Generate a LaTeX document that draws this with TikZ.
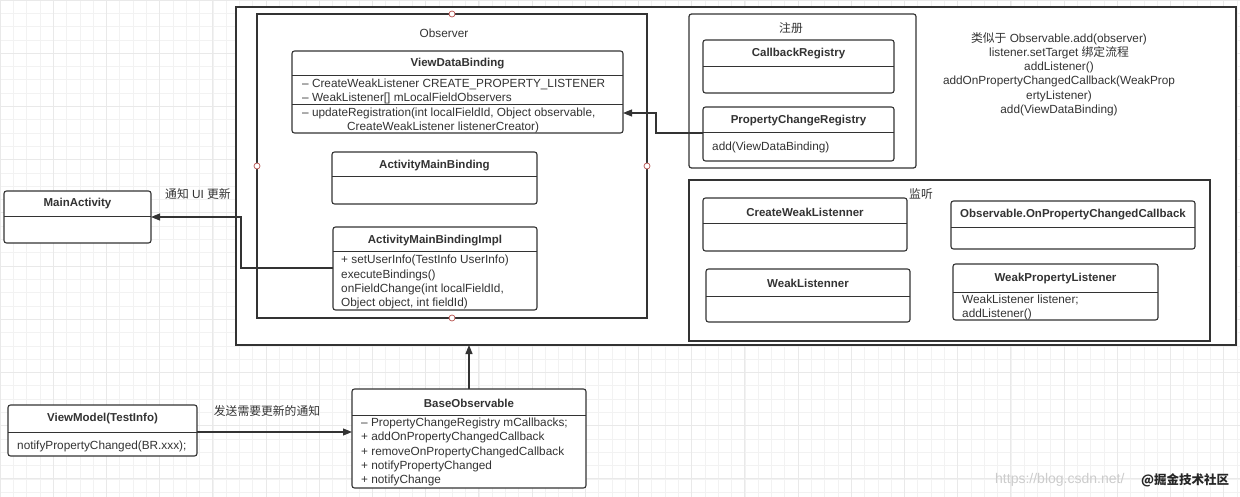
\documentclass[tikz,border=0pt]{standalone}
\usepackage{fontspec}
\setmainfont{Liberation Sans}
\newfontfamily\cjk{Noto Sans CJK SC}
\usetikzlibrary{arrows.meta}
\definecolor{ln}{HTML}{333333}
\definecolor{tx}{HTML}{333333}
\definecolor{dotc}{HTML}{B85450}
\definecolor{gridc}{HTML}{F2F2F2}
\definecolor{gridm}{HTML}{E9E9E9}
\newcommand\boxat[6]{%
  \node[#1, minimum width={(#5)-(#3)}, minimum height={(#6)-(#4)}] (#2) at ({((#3)+(#5))/2},{((#4)+(#6))/2}) {};}
\newcommand\hsep[2]{\draw[ln, line width=1pt] (#1.west |- 0,#2) -- (#1.east |- 0,#2);}
\begin{document}
\begin{tikzpicture}[x=1pt,y=-1pt,
  font=\fontsize{11.8}{14.4}\selectfont, text=tx,
  box/.style={draw=ln, line width=1.1pt, rounded corners=2.5pt, inner sep=0pt, outer sep=0pt, fill=white},
  frame/.style={draw=ln, line width=1.2pt, inner sep=0pt, outer sep=0pt, fill=white},
  rframe/.style={frame, rounded corners=2.5pt},
  ttl/.style={font=\fontsize{11.5}{14}\selectfont\bfseries, inner sep=0pt},
  txt/.style={anchor=west, inner sep=0pt},
  lbl/.style={inner sep=0pt},
  arr/.style={draw=ln, line width=1.1pt, -{Triangle[length=9pt,width=7pt]}},
  dot/.style={circle, draw=dotc, fill=white, minimum size=6pt, inner sep=0pt, line width=0.7pt}]
\useasboundingbox (0,0) rectangle (1240,497);
\fill[white] (0,0) rectangle (1240,497);
% background grid
\foreach \i in {0,...,94} {
  \pgfmathsetmacro\gx{\i*13.3}
  \draw[gridc, line width=0.6pt] (\gx,0) -- (\gx,497);
}
\foreach \j in {0,...,38} {
  \pgfmathsetmacro\gy{\j*13.3}
  \draw[gridc, line width=0.6pt] (0,\gy) -- (1240,\gy);
}
\foreach \i in {0,...,24} {
  \pgfmathsetmacro\gx{\i*53.2}
  \draw[gridm, line width=0.7pt] (\gx,0) -- (\gx,497);
}
\foreach \j in {0,...,10} {
  \pgfmathsetmacro\gy{\j*53.2}
  \draw[gridm, line width=0.7pt] (0,\gy) -- (1240,\gy);
}

% outer frame
\boxat{frame}{outer}{236}{7}{1236}{345}

% Observer frame
\boxat{frame}{observer}{257}{14}{647}{318}
\node[lbl] (obslbl) at (444,33) {Observer};

% ViewDataBinding
\boxat{box}{vdb}{292}{51}{623}{133}
\hsep{vdb}{76}
\hsep{vdb}{105}
\node[ttl] (vdbt) at (457.5,63.5) {ViewDataBinding};
\node[txt] (vdb1) at (302,84) {– CreateWeakListener CREATE\_PROPERTY\_LISTENER};
\node[txt] (vdb2) at (302,98) {– WeakListener[] mLocalFieldObservers};
\node[txt] (vdb3) at (302,113) {– updateRegistration(int localFieldId, Object observable,};
\node[txt] (vdb4) at (347,127) {CreateWeakListener listenerCreator)};

% ActivityMainBinding
\boxat{box}{amb}{332}{152}{537}{204}
\hsep{amb}{177}
\node[ttl] (ambt) at (434.5,165.5) {ActivityMainBinding};

% ActivityMainBindingImpl
\boxat{box}{ambi}{333}{227}{537}{310}
\hsep{ambi}{252}
\node[ttl] (ambit) at (435,240.5) {ActivityMainBindingImpl};
\node[txt] (ambi1) at (341,260) {+ setUserInfo(TestInfo UserInfo)};
\node[txt] (ambi2) at (341,275) {executeBindings()};
\node[txt] (ambi3) at (341,289) {onFieldChange(int localFieldId,};
\node[txt] (ambi4) at (341,303) {Object object, int fieldId)};

% anchor dots on Observer frame
\node[dot] (dtop) at (observer.north) {};
\node[dot] (dbot) at (observer.south) {};
\node[dot] (dleft) at (observer.west) {};
\node[dot] (dright) at (observer.east) {};

% MainActivity
\boxat{box}{main}{4}{191}{151}{243}
\hsep{main}{217}
\node[ttl] (maint) at (77.5,204) {MainActivity};
\node[lbl] (notify) at (198,194) {{\cjk 通知} UI {\cjk 更新}};
\coordinate (m1) at (241,268);
\coordinate (m2) at (241,217);
\draw[arr] (ambi.west |- m1) -- (m1) -- (m2) -- (main.east |- m2);

% Registration
\boxat{rframe}{reg}{689}{14}{916}{168}
\node[lbl] (reglbl) at (791,28) {\cjk 注册};
\boxat{box}{cbr}{703}{40}{894}{93}
\hsep{cbr}{67}
\node[ttl] (cbrt) at (798.5,54) {CallbackRegistry};
\boxat{box}{pcr}{703}{107}{894}{161}
\hsep{pcr}{133}
\node[ttl] (pcrt) at (798.5,120.5) {PropertyChangeRegistry};
\node[txt] (pcr1) at (712,147) {add(ViewDataBinding)};
\coordinate (p1) at (656,133);
\coordinate (p2) at (656,113);
\draw[arr] (pcr.west |- p1) -- (p1) -- (p2) -- (vdb.east |- p2);

% note text
\node[align=center, inner sep=0pt, font=\fontsize{11.8}{14.2}\selectfont] (note) at (1059,74) {%
{\cjk 类似于} Observable.add(observer)\\
listener.setTarget {\cjk 绑定流程}\\
addListener()\\
addOnPropertyChangedCallback(WeakProp\\
ertyListener)\\
add(ViewDataBinding)};

% Listening
\boxat{frame}{lis}{689}{180}{1210}{341}
\node[lbl] (lislbl) at (921,194) {\cjk 监听};
\boxat{box}{cwl}{703}{198}{907}{251}
\hsep{cwl}{224}
\node[ttl] (cwlt) at (805,212) {CreateWeakListenner};
\boxat{box}{wl}{706}{269}{910}{322}
\hsep{wl}{296}
\node[ttl] (wlt) at (808,283) {WeakListenner};
\boxat{box}{opcc}{951}{201}{1195}{249}
\hsep{opcc}{228}
\node[ttl] (opcct) at (1073,215) {Observable.OnPropertyChangedCallback};
\boxat{box}{wpl}{953}{264}{1158}{320}
\hsep{wpl}{292}
\node[ttl] (wplt) at (1055.5,278.5) {WeakPropertyListener};
\node[txt] (wpl1) at (962,300) {WeakListener listener;};
\node[txt] (wpl2) at (962,314) {addListener()};

% ViewModel
\boxat{box}{vm}{8}{405}{197}{456}
\hsep{vm}{432}
\node[ttl] (vmt) at (102.5,419) {ViewModel(TestInfo)};
\node[txt] (vm1) at (17,446.5) {notifyPropertyChanged(BR.xxx);};

% BaseObservable
\boxat{box}{bo}{352}{389}{586}{488}
\hsep{bo}{415}
\node[ttl] (bot) at (469,403) {BaseObservable};
\node[txt] (bo1) at (361,423) {– PropertyChangeRegistry mCallbacks;};
\node[txt] (bo2) at (361,437.5) {+ addOnPropertyChangedCallback};
\node[txt] (bo3) at (361,452) {+ removeOnPropertyChangedCallback};
\node[txt] (bo4) at (361,466) {+ notifyPropertyChanged};
\node[txt] (bo5) at (361,480.5) {+ notifyChange};

\node[lbl] (send) at (267,411) {\cjk 发送需要更新的通知};
\draw[arr] (vm.east |- 0,432) -- (bo.west |- 0,432);
\coordinate (o1) at (469,345);
\draw[arr] (bo.north -| o1) -- (o1);

% watermark
\node[txt, text=black!20, font=\fontsize{14}{16}\selectfont] (wm1) at (995,480) {https://blog.csdn.net/};
\node[txt, text=black!85, font=\fontsize{12.5}{14}\selectfont\cjk\bfseries] (wm2) at (1141,480) {@掘金技术社区};
\end{tikzpicture}
\end{document}
